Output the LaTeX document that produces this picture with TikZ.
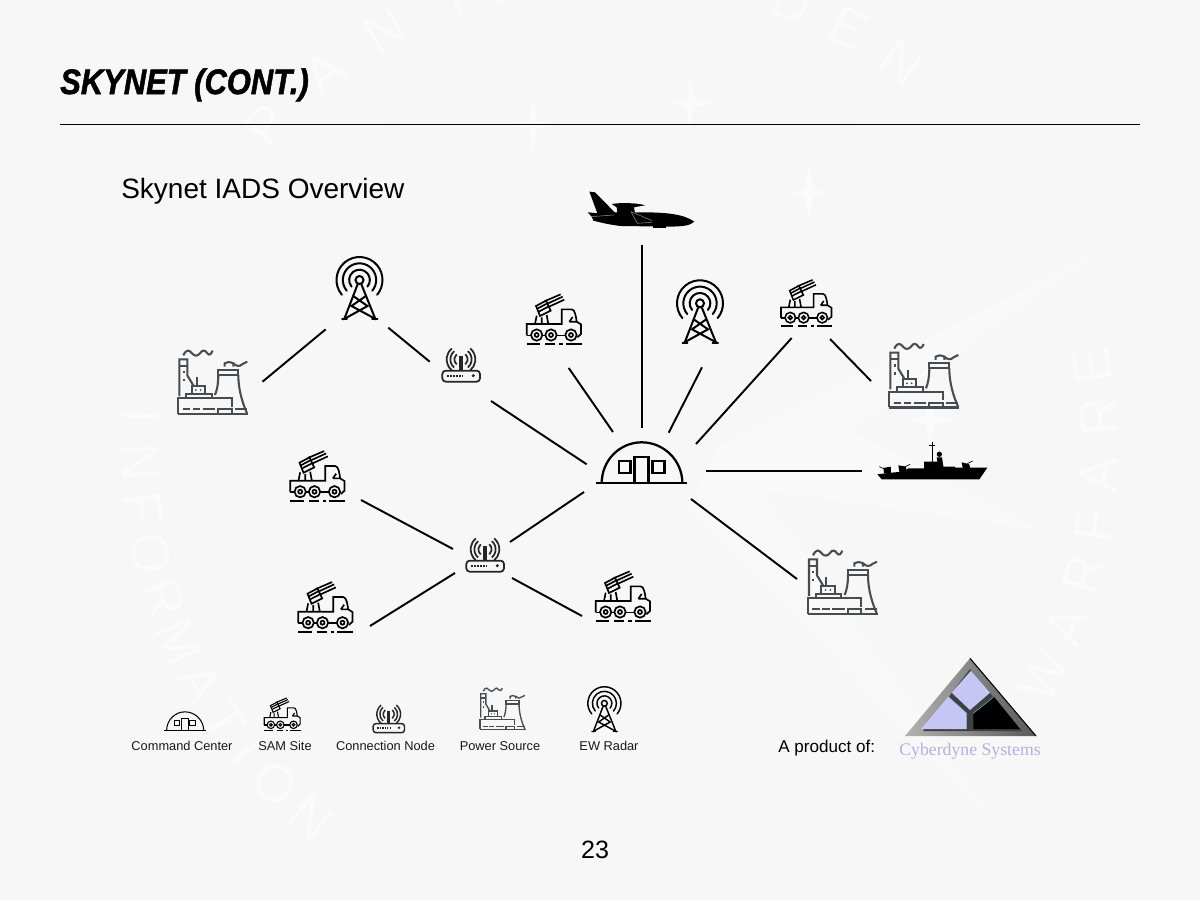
\documentclass[tikz,border=0pt]{standalone}
\usepackage{fontspec}
\setmainfont{Liberation Sans}
\newfontfamily\logofont{Liberation Serif}
\newfontfamily\titlefont{Liberation Sans}[BoldItalicFeatures={FakeBold=1.6}]
\usepackage{xcolor}
\usetikzlibrary{positioning}
\definecolor{pagebg}{RGB}{247,247,247}
\definecolor{sealwhite}{RGB}{251,251,251}
\definecolor{sealfaint}{RGB}{249,249,249}
\definecolor{plantgray}{RGB}{70,76,80}
\definecolor{logolilac}{RGB}{198,198,245}
\definecolor{logotext}{RGB}{178,178,222}
\definecolor{logoblue}{RGB}{120,190,225}
\tikzset{
  link/.style={line width=1.45pt},
  legendtext/.style={inner sep=0pt,anchor=base,font=\fontsize{9.6}{11}\selectfont,color={rgb,255:red,25;green,25;blue,25}},
  sealletter/.style={inner sep=0pt,color=sealwhite,font=\fontsize{40}{40}\selectfont},
  pics/radar/.style={code={
    \begin{scope}[scale=#1/3,yscale=-1,shift={(-568,-90)},line width=#1*1.5pt,line cap=round]
    \draw (568,90) ++(140:69) arc [start angle=140,end angle=400,radius=69];
    \draw (568,90) ++(140:50) arc [start angle=140,end angle=400,radius=50];
    \draw (568,90) ++(140:31) arc [start angle=140,end angle=400,radius=31];
    \draw (568,90) circle [radius=12];
    \draw (562,104) -- (522,208) (574,104) -- (616,208);
    \draw (516,208) -- (530,208) (606,208) -- (622,208);
    \draw (549,138) -- (592,168) -- (520,208) (587,138) -- (544,168) -- (618,208);
    \end{scope}
  }},
  pics/samsite/.style={code={
    \begin{scope}[scale=#1/3,yscale=-1,shift={(-102,-420)},line width=#1*1.25pt]
    \draw (20,466) -- (20,432) -- (125,432) -- (125,388) -- (155,388) .. controls (165,388) and (168,410) .. (170,425) -- (183,433) -- (183,462) -- (172,472);
    \draw (148,425) -- (158,411) (148,425) -- (170,425);
    \draw (20,466) -- (32,466) (68,466) -- (76,466) (110,466) -- (135,466);
    \foreach \wx in {50,93,153} {
      \draw (\wx,465) circle [radius=17];
      \draw (\wx,465) circle [radius=6];
    }
    \draw [line width=#1*1.4pt] (20,492) -- (60,492) (76,492) -- (105,492) (118,492) -- (128,492) (137,492) -- (185,492);
    \draw (48,378) -- (78,362) -- (92,392) -- (60,408) -- cycle;
    \draw (52,386) -- (82,370) (56,395) -- (87,379);
    \draw (73,364) -- (122,343) (80,372) -- (128,350) (85,381) -- (133,359);
    \draw (45,432) -- (50,407) (85,432) -- (80,405) (65,432) -- (65,412);
    \end{scope}
  }},
  pics/router/.style={code={
    \begin{scope}[scale=#1/3,yscale=-1,shift={(-873,-378)},line width=#1*1.3pt,color=black!85]
    \draw [rounded corners=#1*2.5pt] (817,362) rectangle (930,395);
    \draw [line width=#1*2.4pt] (873,318) -- (873,360);
    \foreach \rr in {20,32,43} {
      \draw (873,328) ++(130:\rr) arc [start angle=130,end angle=230,radius=\rr];
      \draw (873,328) ++(-50:\rr) arc [start angle=-50,end angle=50,radius=\rr];
    }
    \draw [dash pattern=on #1*1.2pt off #1*1pt] (832,378) -- (877,378);
    \fill (910,377) circle [radius=5];
    \end{scope}
  }},
  pics/plant/.style={code={
    \begin{scope}[scale=#1/3,yscale=-1,shift={(-130,-495)},line width=#1*1.55pt,color=plantgray]
    \draw (28,438) -- (28,328) -- (52,328) -- (52,376) -- (70,406);
    \draw (28,347) -- (52,347);
    \draw [dash pattern=on #1*2pt off #1*4pt] (41,362) -- (41,404);
    \draw (48,445) -- (48,432) -- (125,432) -- (125,445);
    \draw (65,432) -- (65,408) -- (105,408) -- (105,432);
    \draw (80,408) -- (80,380);
    \fill (78,420) circle [radius=3] (92,420) circle [radius=3];
    \draw (25,492) -- (25,445) -- (185,445) -- (185,470);
    \draw [line width=#1*1.8pt] (25,492) -- (235,492);
    \draw (38,478) -- (60,478) (68,478) -- (90,478) (98,478) -- (135,478) (195,478) -- (232,478);
    \draw (145,478) rectangle (185,492);
    \draw (145,360) rectangle (205,375);
    \draw (145,375) .. controls (145,400) and (142,418) .. (135,435);
    \draw (205,375) .. controls (205,420) and (218,460) .. (232,492);
    \draw (40,316) .. controls (50,296) and (58,300) .. (66,310) .. controls (74,320) and (84,318) .. (90,310) .. controls (98,298) and (106,300) .. (112,310) .. controls (118,318) and (124,312) .. (128,302);
    \draw (164,350) -- (164,340) .. controls (170,335) and (180,335) .. (190,340) -- (190,350);
    \draw (190,340) .. controls (200,350) and (210,350) .. (218,342) -- (232,335);
    \end{scope}
  }},
  pics/commandhut/.style={code={
    \begin{scope}[scale=#1/3,yscale=-1,shift={(-365,-910)},line width=#1*1.7pt]
    \draw (228,910) -- (502,910);
    \draw (245,910) .. controls (245,840) and (300,787) .. (365,787) .. controls (430,787) and (487,840) .. (487,910);
    \draw (343,910) -- (343,830) -- (385,830) -- (385,910);
    \draw (297,842) rectangle (331,878);
    \draw (397,842) rectangle (433,878);
    \end{scope}
  }},
}
\begin{document}
\begin{tikzpicture}[x=0.75pt,y=0.75pt,yscale=-1,xscale=1]
\useasboundingbox (0,0) rectangle (1200,900);

%Shape: page and seal behind it
\fill [pagebg] (0,0) rectangle (1200,900);
\draw [sealfaint,line width=1pt] (620,450) circle [radius=400];
\draw [sealfaint,line width=1pt] (620,470) circle [radius=300];
\fill [sealfaint] (720,445) -- (1100,250) -- (850,430) -- (1040,530) -- (760,490) -- (1000,830) -- (690,505) -- cycle;
\foreach \sx/\sy [count=\si] in {533/125,690/103,809/193,930/420} {
  \fill [sealwhite] (\sx,\sy-28) -- (\sx+4,\sy-4) -- (\sx+22,\sy) -- (\sx+4,\sy+4) -- (\sx,\sy+28) -- (\sx-4,\sy+4) -- (\sx-22,\sy) -- (\sx-4,\sy-4) -- cycle;
}
\foreach \ang/\ch [count=\wi] in {184/I,178.5/N,173/F,167.5/O,162/R,156.5/M,151/A,145.5/T,141/I,136/O,130/N} {
  \pgfmathsetmacro{\rot}{90-\ang}
  \node (sealA\wi) [sealletter,rotate=\rot] at ([shift={(620,450)}]\ang:480) {\ch};
}
\foreach \ang/\ch [count=\wi] in {28/W,21.5/A,15/R,9/F,3/A,-4/R,-10/E} {
  \pgfmathsetmacro{\rot}{90-\ang}
  \node (sealB\wi) [sealletter,rotate=\rot] at ([shift={(620,450)}]\ang:480) {\ch};
}
\foreach \ang/\ch [count=\wi] in {222.7/P,232/A,240.7/N,250/T,256.5/H,264/E,271/R,291/D,298.5/E,306/N} {
  \pgfmathsetmacro{\rot}{270-\ang}
  \node (sealC\wi) [sealletter,rotate=\rot] at ([shift={(620,450)}]\ang:480) {\ch};
}

%Straight Lines: title rule
\coordinate (ruleL) at (60,124);
\coordinate (ruleR) at (1140,124);
\draw [line width=0.75pt] (ruleL) -- (ruleR);

%Shape: network icons
\pic (hut) at (641.7,483.3) {commandhut=1};
\pic (radarA) at (359.5,280) {radar=1};
\pic (radarB) at (700,303.3) {radar=1};
\pic (routerA) at (461,376) {router=1};
\pic (routerB) at (485,566) {router=1};
\pic (samA) at (554,320) {samsite=1};
\pic (samB) at (806.4,303.7) {samsite=0.93};
\pic (samC) at (317.5,476.7) {samsite=1};
\pic (samD) at (325.5,607.7) {samsite=1};
\pic (samE) at (623,597) {samsite=1};
\pic (plantA) at (213.3,415) {plant=1};
\pic (plantB) at (924.3,408.3) {plant=1};
\pic (plantC) at (843,615) {plant=1};

%Shape: aircraft
\begin{scope}[scale=1/3,shift={(641.7*3-365,213.3*3-100)}]
\fill (208,35) -- (225,37) -- (284,97) -- (375,97) .. controls (440,98) and (490,102) .. (523,125) .. controls (510,137) and (490,140) .. (437,140) -- (300,138) .. controls (270,134) and (250,130) .. (220,122) -- (215,110) -- (203,97) -- (232,100) -- cycle;
\fill (275,72) .. controls (300,68) and (350,68) .. (375,76) -- (342,82) -- (345,100) -- (292,100) -- (290,82) -- cycle;
\fill (398,125) rectangle (437,145);
\draw [black!45,line width=0.4pt] (333,95) -- (352,130) -- (396,127) (333,95) -- (396,122);
\draw [black!45,line width=0.4pt] (215,110) -- (282,105);
\end{scope}

%Shape: ship
\begin{scope}[scale=1/3,shift={(932.7*3-218,473.3*3-130)}]
\fill (52,133) -- (65,148) -- (358,148) -- (382,113) -- (285,113) -- (285,110) -- (250,110) -- (246,82) -- (230,82) -- (232,95) -- (192,95) -- (192,115) -- (145,115) -- (130,125) -- (95,128) -- cycle;
\fill (238,73) circle [radius=8];
\fill (70,114) -- (92,110) -- (93,130) -- (72,130) -- cycle;
\fill (115,106) -- (138,110) -- (140,126) -- (118,126) -- cycle;
\fill (305,97) -- (328,103) -- (330,114) -- (308,114) -- cycle;
\draw [line width=0.6pt] (216,35) -- (216,95) (207,47) -- (226,47);
\draw [line width=0.5pt] (58,110) -- (75,118) (150,103) -- (132,112) (338,93) -- (322,101);
\end{scope}

%Straight Lines
\coordinate (plantAend) at (262.5,381.7);
\coordinate (radarAleft) at (325.7,329.3);
\coordinate (radarAright) at (388.3,327.7);
\coordinate (routerAend) at (429.7,361.7);
\coordinate (routerAlow) at (491,401);
\coordinate (hutLeft) at (586.7,464.3);
\coordinate (samAend) at (568.7,368);
\coordinate (hutSamA) at (613,432);
\coordinate (planeEnd) at (641.7,245);
\coordinate (hutPlane) at (641.7,428.3);
\coordinate (radarBend) at (702,367.3);
\coordinate (hutRadarB) at (668.7,432.7);
\coordinate (samBleft) at (791.7,338);
\coordinate (hutSamB) at (696,444);
\coordinate (samBright) at (830,339);
\coordinate (plantBend) at (871,381);
\coordinate (hutRight) at (706,471);
\coordinate (shipEnd) at (862,471);
\coordinate (hutLow) at (691,499);
\coordinate (plantCend) at (797,579);
\coordinate (hutRouterB) at (584,492);
\coordinate (routerBtop) at (510,542);
\coordinate (samCend) at (361,500);
\coordinate (routerBleft) at (453,549);
\coordinate (routerBlow) at (455,573);
\coordinate (samDend) at (370,626);
\coordinate (routerBright) at (512,578);
\coordinate (samEend) at (582,616);
\draw [link] (plantAend) -- (radarAleft);
\draw [link] (radarAright) -- (routerAend);
\draw [link] (routerAlow) -- (hutLeft);
\draw [link] (samAend) -- (hutSamA);
\draw [link] (planeEnd) -- (hutPlane);
\draw [link] (radarBend) -- (hutRadarB);
\draw [link] (samBleft) -- (hutSamB);
\draw [link] (samBright) -- (plantBend);
\draw [link] (hutRight) -- (shipEnd);
\draw [link] (hutLow) -- (plantCend);
\draw [link] (hutRouterB) -- (routerBtop);
\draw [link] (samCend) -- (routerBleft);
\draw [link] (routerBlow) -- (samDend);
\draw [link] (routerBright) -- (samEend);

%Shape: legend icons
\pic (keyHut) at (185,730.7) {commandhut=0.46};
\pic (keySam) at (282.3,714.9) {samsite=0.66};
\pic (keyRouter) at (388.7,728) {router=0.83};
\pic (keyPlant) at (502.8,730) {plant=0.65};
\pic (keyRadar) at (604.4,703.3) {radar=0.72};

%Shape: logo triangle
\shade [left color=black!30,right color=black!65] (970,658.3) -- (905,736) -- (1036,736) -- cycle;
\draw [line width=0.8pt] (970,658.3) -- (1036,736);
\fill [black!75] (970,669) -- (923,731) -- (1022,731) -- cycle;
\fill [logolilac] (971,670.7) -- (990,692.7) -- (970,710) -- (951.7,692.7) -- cycle;
\fill [logolilac] (948.3,696.7) -- (966.7,713.3) -- (966.7,729) -- (921,729) -- cycle;
\fill [black] (973.3,713.3) -- (994,696.7) -- (1020,729) -- (973.3,729) -- cycle;
\draw [logoblue,line width=0.4pt] (948.3,696.7) -- (966.7,713.3) -- (966.7,729) (973.3,713.3) -- (994,696.7);

% Text Node
\node (title) [anchor=base west,inner sep=0pt,font=\titlefont\bfseries\itshape\fontsize{26.5}{30}\selectfont] at (60,94) {\scalebox{0.875}[1]{SKYNET (CONT.)}};
% Text Node
\node (overview) [anchor=base west,inner sep=0pt,font=\fontsize{21}{25}\selectfont] at (121,198) {Skynet IADS Overview};
% Text Node
\node (keyHutText) [legendtext] at (182,750) {Command Center};
\node (keySamText) [legendtext] at (285,750) {SAM Site};
\node (keyRouterText) [legendtext] at (385.5,750) {Connection Node};
\node (keyPlantText) [legendtext] at (500,750) {Power Source};
\node (keyRadarText) [legendtext] at (609,750) {EW Radar};
% Text Node
\node (productText) [anchor=base west,inner sep=0pt,font=\fontsize{12.8}{15}\selectfont] at (778,752) {A product of:};
% Text Node
\node (logoText) [anchor=base,inner sep=0pt,color=logotext,font=\logofont\fontsize{13.3}{15}\selectfont] at (970,755) {Cyberdyne Systems};
% Text Node
\node (pageNo) [anchor=base,inner sep=0pt,font=\fontsize{18.8}{22}\selectfont] at (595,858) {23};

\end{tikzpicture}
\end{document}
